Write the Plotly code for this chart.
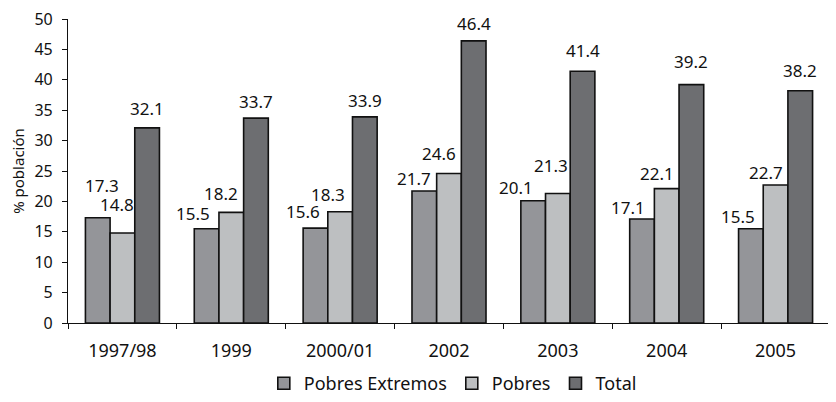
import plotly.graph_objects as go

categories = ["1997/98", "1999", "2000/01", "2002", "2003", "2004", "2005"]
pobres_extremos = [17.3, 15.5, 15.6, 21.7, 20.1, 17.1, 15.5]
pobres = [14.8, 18.2, 18.3, 24.6, 21.3, 22.1, 22.7]
total = [32.1, 33.7, 33.9, 46.4, 41.4, 39.2, 38.2]

# label placement tweaks (pixels): horizontal shift, gap above bar
dx_ext = [4, -14, -12, -10, -17, -14, -13]
gap_ext = [23, 6, 7, 3, 4, 2, 3]
dx_pob = [-5, -10, -12, -10, -7, -10, -10]
gap_pob = [19, 9, 8, 10, 19, 6, 3]
dx_tot = [0, 0, 0, 0, 0, 0, 0]
gap_tot = [10, 7, 7, 8, 11, 14, 11]

series = [
    ("Pobres Extremos", pobres_extremos, "#949599", dx_ext, gap_ext),
    ("Pobres", pobres, "#bdbfc1", dx_pob, gap_pob),
    ("Total", total, "#6d6e71", dx_tot, gap_tot),
]

BARGAP = 0.32
bw = (1 - BARGAP) / 3

fig = go.Figure()
for j, (name, vals, col, dxs, gaps) in enumerate(series):
    fig.add_trace(go.Bar(
        x=categories, y=vals, name=name,
        marker=dict(color=col, line=dict(color="#111111", width=1.6)),
    ))
    for i, v in enumerate(vals):
        fig.add_annotation(
            x=i + (j - 1) * bw, y=v, xref="x", yref="y",
            text=f"{v:.1f}", showarrow=False,
            xanchor="center", yanchor="bottom",
            xshift=dxs[i], yshift=gaps[i] - 4,
            font=dict(size=17, color="#111111"),
        )

fig.update_layout(
    width=828, height=394,
    margin=dict(l=60, r=6, t=11, b=79),
    barmode="group", bargap=BARGAP, bargroupgap=0,
    plot_bgcolor="white", paper_bgcolor="white",
    font=dict(family="Noto Sans", size=15, color="#111111"),
    showlegend=True,
    legend=dict(orientation="h", x=0.505, xanchor="center",
                yref="container", y=-0.012, yanchor="bottom",
                font=dict(size=18), itemwidth=30, traceorder="normal"),
)
fig.update_yaxes(range=[0, 50], dtick=5, showgrid=False, showline=True,
                 linecolor="#111111", linewidth=1.2, ticks="outside", ticklen=5,
                 tickcolor="#111111", zeroline=False, automargin=False,
                 ticklabeloverflow="allow", ticklabelstandoff=6,
                 title=dict(text="% población", font=dict(size=15), standoff=22),
                 tickfont=dict(size=16))
fig.update_xaxes(showline=True, linecolor="#111111", linewidth=1.2, ticks="outside",
                 tickson="boundaries", ticklen=5, tickcolor="#111111", automargin=False,
                 ticklabeloverflow="allow", ticklabelstandoff=11,
                 tickfont=dict(size=18))

fig.write_html("out.html")
